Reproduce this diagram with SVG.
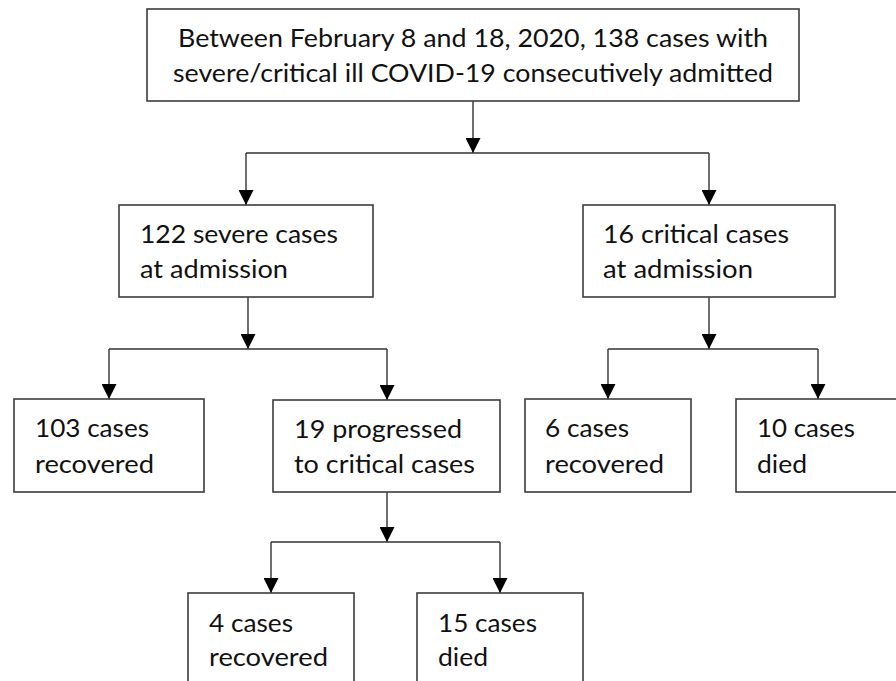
<svg xmlns="http://www.w3.org/2000/svg" width="896" height="681" viewBox="0 0 896 681">
<style>
.box{fill:#fff;stroke:#3c3c3c;stroke-width:1.6}
.t{font-family:Lato,"Open Sans","Liberation Sans",sans-serif;font-size:25px;fill:#111}
.c{fill:none;stroke:#333;stroke-width:1.4}
</style>
<defs>
<marker id="ah" viewBox="0 0 10 10" refX="10" refY="5" markerWidth="15" markerHeight="15" markerUnits="userSpaceOnUse" orient="auto">
<path d="M0,0 L10,5 L0,10 z" fill="#000"/>
</marker>
</defs>
<rect width="896" height="681" fill="#fff"/>
<g id="connectors">
<path class="c" d="M473,101 V153" marker-end="url(#ah)"/>
<path class="c" d="M246,153 H709"/>
<path class="c" d="M246,153 V205" marker-end="url(#ah)"/>
<path class="c" d="M709,153 V205" marker-end="url(#ah)"/>
<path class="c" d="M248,297 V349" marker-end="url(#ah)"/>
<path class="c" d="M109,349 H387"/>
<path class="c" d="M109,349 V399" marker-end="url(#ah)"/>
<path class="c" d="M387,349 V400" marker-end="url(#ah)"/>
<path class="c" d="M709,297 V349" marker-end="url(#ah)"/>
<path class="c" d="M608,349 H818"/>
<path class="c" d="M608,349 V399" marker-end="url(#ah)"/>
<path class="c" d="M818,349 V399" marker-end="url(#ah)"/>
<path class="c" d="M387,492 V542" marker-end="url(#ah)"/>
<path class="c" d="M271,542 H500"/>
<path class="c" d="M271,542 V593" marker-end="url(#ah)"/>
<path class="c" d="M500,542 V593" marker-end="url(#ah)"/>
</g>
<g id="n-top">
<rect class="box" x="147" y="9" width="652" height="92"/>
<text class="t" x="473" y="47" text-anchor="middle" textLength="590" lengthAdjust="spacingAndGlyphs">Between February 8 and 18, 2020, 138 cases with</text>
<text class="t" x="473" y="82" text-anchor="middle" textLength="600" lengthAdjust="spacingAndGlyphs">severe/critical ill COVID-19 consecutively admitted</text>
</g>
<g id="n-severe">
<rect class="box" x="119" y="205" width="254" height="92"/>
<text class="t" x="140" y="243" textLength="198" lengthAdjust="spacingAndGlyphs">122 severe cases</text>
<text class="t" x="140" y="278" textLength="148" lengthAdjust="spacingAndGlyphs">at admission</text>
</g>
<g id="n-critical">
<rect class="box" x="583" y="205" width="252" height="92"/>
<text class="t" x="603" y="243" textLength="186" lengthAdjust="spacingAndGlyphs">16 critical cases</text>
<text class="t" x="603" y="278" textLength="150" lengthAdjust="spacingAndGlyphs">at admission</text>
</g>
<g id="n-103">
<rect class="box" x="14" y="399" width="190" height="93"/>
<text class="t" x="35" y="437" textLength="114" lengthAdjust="spacingAndGlyphs">103 cases</text>
<text class="t" x="35" y="473" textLength="119" lengthAdjust="spacingAndGlyphs">recovered</text>
</g>
<g id="n-19">
<rect class="box" x="273" y="400" width="227" height="92"/>
<text class="t" x="294" y="438" textLength="168" lengthAdjust="spacingAndGlyphs">19 progressed</text>
<text class="t" x="294" y="473" textLength="181" lengthAdjust="spacingAndGlyphs">to critical cases</text>
</g>
<g id="n-6">
<rect class="box" x="525" y="399" width="166" height="93"/>
<text class="t" x="545" y="437" textLength="84" lengthAdjust="spacingAndGlyphs">6 cases</text>
<text class="t" x="545" y="473" textLength="119" lengthAdjust="spacingAndGlyphs">recovered</text>
</g>
<g id="n-10">
<rect class="box" x="736" y="399" width="166" height="93"/>
<text class="t" x="757" y="437" textLength="98" lengthAdjust="spacingAndGlyphs">10 cases</text>
<text class="t" x="757" y="473" textLength="50" lengthAdjust="spacingAndGlyphs">died</text>
</g>
<g id="n-4">
<rect class="box" x="188" y="593" width="166" height="100"/>
<text class="t" x="209" y="632" textLength="84" lengthAdjust="spacingAndGlyphs">4 cases</text>
<text class="t" x="209" y="666" textLength="119" lengthAdjust="spacingAndGlyphs">recovered</text>
</g>
<g id="n-15">
<rect class="box" x="417" y="593" width="166" height="100"/>
<text class="t" x="438" y="632" textLength="99" lengthAdjust="spacingAndGlyphs">15 cases</text>
<text class="t" x="438" y="666" textLength="50" lengthAdjust="spacingAndGlyphs">died</text>
</g>
</svg>
